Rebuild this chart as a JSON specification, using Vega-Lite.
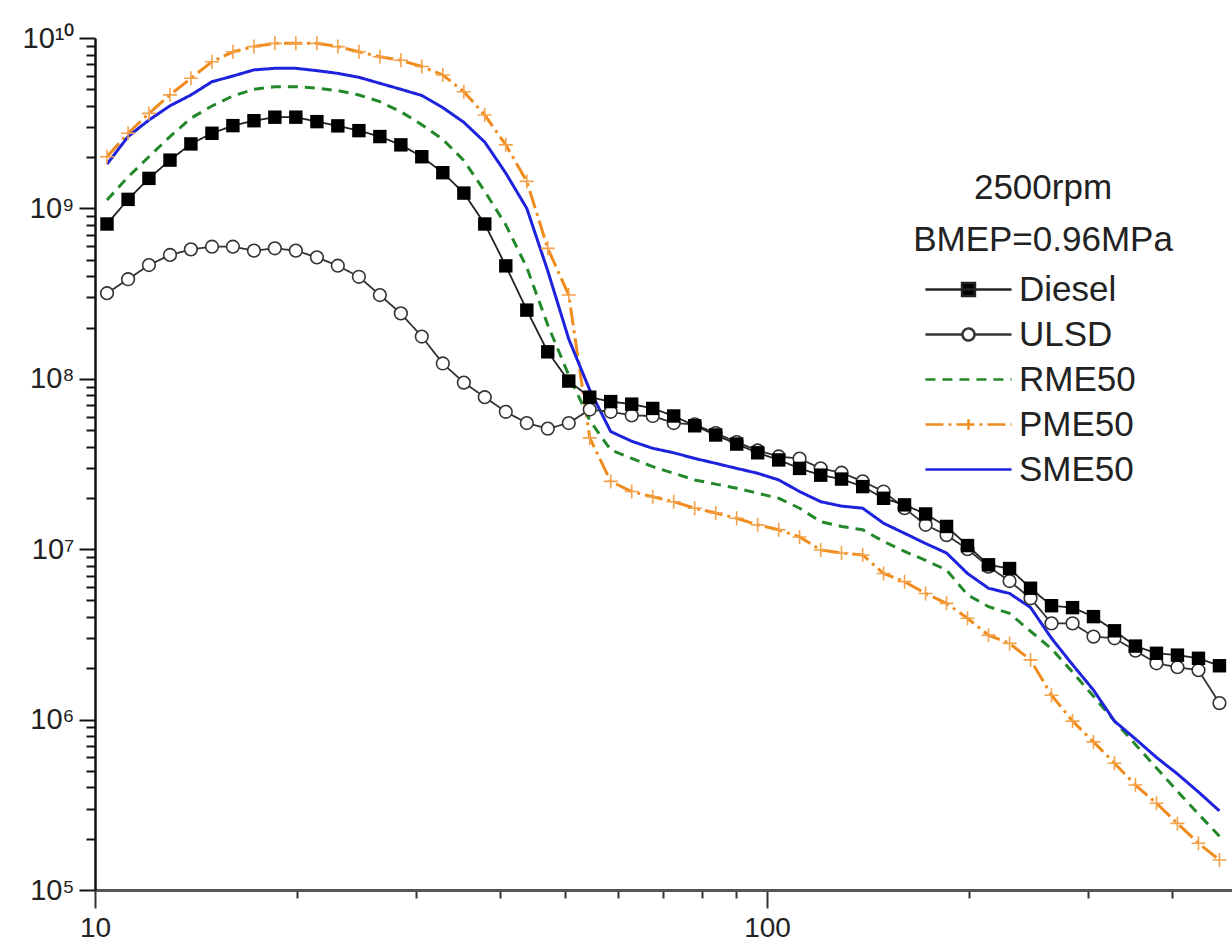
{
  "$schema": "https://vega.github.io/schema/vega-lite/v6.json",
  "autosize": {"type": "none"},
  "padding": {"left": 95, "top": 38, "right": 0, "bottom": 53},
  "width": 1137,
  "height": 852,
  "background": "white",
  "config": {"view": {"stroke": null}},
  "data": {"values": [
    {"fuel":"PME50","x":10.42,"y":2.01e9},{"fuel":"PME50","x":11.2,"y":2.76e9},{"fuel":"PME50","x":12.03,"y":3.61e9},{"fuel":"PME50","x":12.93,"y":4.64e9},{"fuel":"PME50","x":13.89,"y":5.8e9},{"fuel":"PME50","x":14.93,"y":7.26e9},{"fuel":"PME50","x":16.04,"y":8.3e9},{"fuel":"PME50","x":17.24,"y":8.9e9},{"fuel":"PME50","x":18.52,"y":9.3e9},{"fuel":"PME50","x":19.9,"y":9.3e9},{"fuel":"PME50","x":21.39,"y":9.3e9},{"fuel":"PME50","x":22.98,"y":8.9e9},{"fuel":"PME50","x":24.7,"y":8.3e9},{"fuel":"PME50","x":26.54,"y":7.76e9},{"fuel":"PME50","x":28.52,"y":7.4e9},{"fuel":"PME50","x":30.64,"y":6.8e9},{"fuel":"PME50","x":32.93,"y":6.07e9},{"fuel":"PME50","x":35.39,"y":4.84e9},{"fuel":"PME50","x":38.02,"y":3.53e9},{"fuel":"PME50","x":40.86,"y":2.36e9},{"fuel":"PME50","x":43.91,"y":1.44e9},{"fuel":"PME50","x":47.18,"y":5.83e8},{"fuel":"PME50","x":50.7,"y":3.1e8},{"fuel":"PME50","x":54.48,"y":4.5e7},{"fuel":"PME50","x":58.54,"y":2.5e7},{"fuel":"PME50","x":62.91,"y":2.18e7},{"fuel":"PME50","x":67.6,"y":2.03e7},{"fuel":"PME50","x":72.64,"y":1.9e7},{"fuel":"PME50","x":78.06,"y":1.74e7},{"fuel":"PME50","x":83.88,"y":1.63e7},{"fuel":"PME50","x":90.13,"y":1.52e7},{"fuel":"PME50","x":96.85,"y":1.39e7},{"fuel":"PME50","x":104.1,"y":1.3e7},{"fuel":"PME50","x":111.8,"y":1.18e7},{"fuel":"PME50","x":120.2,"y":9.9e6},{"fuel":"PME50","x":129.1,"y":9.5e6},{"fuel":"PME50","x":138.8,"y":9.25e6},{"fuel":"PME50","x":149.1,"y":7.2e6},{"fuel":"PME50","x":160.2,"y":6.45e6},{"fuel":"PME50","x":172.2,"y":5.5e6},{"fuel":"PME50","x":185,"y":4.81e6},{"fuel":"PME50","x":198.8,"y":3.93e6},{"fuel":"PME50","x":213.6,"y":3.13e6},{"fuel":"PME50","x":229.6,"y":2.8e6},{"fuel":"PME50","x":246.7,"y":2.24e6},{"fuel":"PME50","x":265.1,"y":1.39e6},{"fuel":"PME50","x":284.9,"y":9.8e5},{"fuel":"PME50","x":306.1,"y":7.4e5},{"fuel":"PME50","x":328.9,"y":5.54e5},{"fuel":"PME50","x":353.4,"y":4.13e5},{"fuel":"PME50","x":379.8,"y":3.23e5},{"fuel":"PME50","x":408.1,"y":2.46e5},{"fuel":"PME50","x":438.6,"y":1.88e5},{"fuel":"PME50","x":471.3,"y":1.5e5},
    {"fuel":"RME50","x":10.42,"y":1.12e9},{"fuel":"RME50","x":11.2,"y":1.53e9},{"fuel":"RME50","x":12.03,"y":2.01e9},{"fuel":"RME50","x":12.93,"y":2.64e9},{"fuel":"RME50","x":13.89,"y":3.38e9},{"fuel":"RME50","x":14.93,"y":3.99e9},{"fuel":"RME50","x":16.04,"y":4.57e9},{"fuel":"RME50","x":17.24,"y":5.0e9},{"fuel":"RME50","x":18.52,"y":5.18e9},{"fuel":"RME50","x":19.9,"y":5.18e9},{"fuel":"RME50","x":21.39,"y":5.07e9},{"fuel":"RME50","x":22.98,"y":4.91e9},{"fuel":"RME50","x":24.7,"y":4.63e9},{"fuel":"RME50","x":26.54,"y":4.23e9},{"fuel":"RME50","x":28.52,"y":3.69e9},{"fuel":"RME50","x":30.64,"y":3.1e9},{"fuel":"RME50","x":32.93,"y":2.54e9},{"fuel":"RME50","x":35.39,"y":1.91e9},{"fuel":"RME50","x":38.02,"y":1.26e9},{"fuel":"RME50","x":40.86,"y":8.0e8},{"fuel":"RME50","x":43.91,"y":4.5e8},{"fuel":"RME50","x":47.18,"y":2.07e8},{"fuel":"RME50","x":50.7,"y":1.05e8},{"fuel":"RME50","x":54.48,"y":5.7e7},{"fuel":"RME50","x":58.54,"y":3.82e7},{"fuel":"RME50","x":62.91,"y":3.41e7},{"fuel":"RME50","x":67.6,"y":3.05e7},{"fuel":"RME50","x":72.64,"y":2.79e7},{"fuel":"RME50","x":78.06,"y":2.55e7},{"fuel":"RME50","x":83.88,"y":2.41e7},{"fuel":"RME50","x":90.13,"y":2.28e7},{"fuel":"RME50","x":96.85,"y":2.13e7},{"fuel":"RME50","x":104.1,"y":1.99e7},{"fuel":"RME50","x":111.8,"y":1.74e7},{"fuel":"RME50","x":120.2,"y":1.45e7},{"fuel":"RME50","x":129.1,"y":1.36e7},{"fuel":"RME50","x":138.8,"y":1.3e7},{"fuel":"RME50","x":149.1,"y":1.11e7},{"fuel":"RME50","x":160.2,"y":9.7e6},{"fuel":"RME50","x":172.2,"y":8.6e6},{"fuel":"RME50","x":185,"y":7.55e6},{"fuel":"RME50","x":198.8,"y":5.4e6},{"fuel":"RME50","x":213.6,"y":4.6e6},{"fuel":"RME50","x":229.6,"y":4.2e6},{"fuel":"RME50","x":246.7,"y":3.3e6},{"fuel":"RME50","x":265.1,"y":2.6e6},{"fuel":"RME50","x":284.9,"y":1.9e6},{"fuel":"RME50","x":306.1,"y":1.37e6},{"fuel":"RME50","x":328.9,"y":9.8e5},{"fuel":"RME50","x":353.4,"y":7.15e5},{"fuel":"RME50","x":379.8,"y":5.2e5},{"fuel":"RME50","x":408.1,"y":3.8e5},{"fuel":"RME50","x":438.6,"y":2.79e5},{"fuel":"RME50","x":471.3,"y":2.07e5},
    {"fuel":"SME50","x":10.42,"y":1.82e9},{"fuel":"SME50","x":11.2,"y":2.64e9},{"fuel":"SME50","x":12.03,"y":3.3e9},{"fuel":"SME50","x":12.93,"y":4.0e9},{"fuel":"SME50","x":13.89,"y":4.63e9},{"fuel":"SME50","x":14.93,"y":5.54e9},{"fuel":"SME50","x":16.04,"y":5.98e9},{"fuel":"SME50","x":17.24,"y":6.5e9},{"fuel":"SME50","x":18.52,"y":6.64e9},{"fuel":"SME50","x":19.9,"y":6.64e9},{"fuel":"SME50","x":21.39,"y":6.43e9},{"fuel":"SME50","x":22.98,"y":6.2e9},{"fuel":"SME50","x":24.7,"y":5.88e9},{"fuel":"SME50","x":26.54,"y":5.42e9},{"fuel":"SME50","x":28.52,"y":5.0e9},{"fuel":"SME50","x":30.64,"y":4.6e9},{"fuel":"SME50","x":32.93,"y":3.9e9},{"fuel":"SME50","x":35.39,"y":3.2e9},{"fuel":"SME50","x":38.02,"y":2.45e9},{"fuel":"SME50","x":40.86,"y":1.61e9},{"fuel":"SME50","x":43.91,"y":1.0e9},{"fuel":"SME50","x":47.18,"y":4.3e8},{"fuel":"SME50","x":50.7,"y":1.71e8},{"fuel":"SME50","x":54.48,"y":8.6e7},{"fuel":"SME50","x":58.54,"y":4.9e7},{"fuel":"SME50","x":62.91,"y":4.3e7},{"fuel":"SME50","x":67.6,"y":3.91e7},{"fuel":"SME50","x":72.64,"y":3.68e7},{"fuel":"SME50","x":78.06,"y":3.41e7},{"fuel":"SME50","x":83.88,"y":3.19e7},{"fuel":"SME50","x":90.13,"y":2.98e7},{"fuel":"SME50","x":96.85,"y":2.79e7},{"fuel":"SME50","x":104.1,"y":2.55e7},{"fuel":"SME50","x":111.8,"y":2.18e7},{"fuel":"SME50","x":120.2,"y":1.9e7},{"fuel":"SME50","x":129.1,"y":1.79e7},{"fuel":"SME50","x":138.8,"y":1.74e7},{"fuel":"SME50","x":149.1,"y":1.42e7},{"fuel":"SME50","x":160.2,"y":1.24e7},{"fuel":"SME50","x":172.2,"y":1.08e7},{"fuel":"SME50","x":185,"y":9.5e6},{"fuel":"SME50","x":198.8,"y":7.2e6},{"fuel":"SME50","x":213.6,"y":5.9e6},{"fuel":"SME50","x":229.6,"y":5.5e6},{"fuel":"SME50","x":246.7,"y":4.55e6},{"fuel":"SME50","x":265.1,"y":3.0e6},{"fuel":"SME50","x":284.9,"y":2.1e6},{"fuel":"SME50","x":306.1,"y":1.49e6},{"fuel":"SME50","x":328.9,"y":9.8e5},{"fuel":"SME50","x":353.4,"y":7.7e5},{"fuel":"SME50","x":379.8,"y":6.0e5},{"fuel":"SME50","x":408.1,"y":4.8e5},{"fuel":"SME50","x":438.6,"y":3.76e5},{"fuel":"SME50","x":471.3,"y":2.91e5},
    {"fuel":"ULSD","x":10.42,"y":3.18e8},{"fuel":"ULSD","x":11.2,"y":3.84e8},{"fuel":"ULSD","x":12.03,"y":4.65e8},{"fuel":"ULSD","x":12.93,"y":5.33e8},{"fuel":"ULSD","x":13.89,"y":5.75e8},{"fuel":"ULSD","x":14.93,"y":5.96e8},{"fuel":"ULSD","x":16.04,"y":5.96e8},{"fuel":"ULSD","x":17.24,"y":5.65e8},{"fuel":"ULSD","x":18.52,"y":5.83e8},{"fuel":"ULSD","x":19.9,"y":5.65e8},{"fuel":"ULSD","x":21.39,"y":5.16e8},{"fuel":"ULSD","x":22.98,"y":4.61e8},{"fuel":"ULSD","x":24.7,"y":3.97e8},{"fuel":"ULSD","x":26.54,"y":3.1e8},{"fuel":"ULSD","x":28.52,"y":2.42e8},{"fuel":"ULSD","x":30.64,"y":1.77e8},{"fuel":"ULSD","x":32.93,"y":1.23e8},{"fuel":"ULSD","x":35.39,"y":9.5e7},{"fuel":"ULSD","x":38.02,"y":7.8e7},{"fuel":"ULSD","x":40.86,"y":6.4e7},{"fuel":"ULSD","x":43.91,"y":5.5e7},{"fuel":"ULSD","x":47.18,"y":5.1e7},{"fuel":"ULSD","x":50.7,"y":5.5e7},{"fuel":"ULSD","x":54.48,"y":6.6e7},{"fuel":"ULSD","x":58.54,"y":6.4e7},{"fuel":"ULSD","x":62.91,"y":6.1e7},{"fuel":"ULSD","x":67.6,"y":6.05e7},{"fuel":"ULSD","x":72.64,"y":5.5e7},{"fuel":"ULSD","x":78.06,"y":5.4e7},{"fuel":"ULSD","x":83.88,"y":4.8e7},{"fuel":"ULSD","x":90.13,"y":4.25e7},{"fuel":"ULSD","x":96.85,"y":3.8e7},{"fuel":"ULSD","x":104.1,"y":3.5e7},{"fuel":"ULSD","x":111.8,"y":3.4e7},{"fuel":"ULSD","x":120.2,"y":2.98e7},{"fuel":"ULSD","x":129.1,"y":2.81e7},{"fuel":"ULSD","x":138.8,"y":2.5e7},{"fuel":"ULSD","x":149.1,"y":2.18e7},{"fuel":"ULSD","x":160.2,"y":1.74e7},{"fuel":"ULSD","x":172.2,"y":1.39e7},{"fuel":"ULSD","x":185,"y":1.21e7},{"fuel":"ULSD","x":198.8,"y":1.0e7},{"fuel":"ULSD","x":213.6,"y":7.9e6},{"fuel":"ULSD","x":229.6,"y":6.5e6},{"fuel":"ULSD","x":246.7,"y":5.15e6},{"fuel":"ULSD","x":265.1,"y":3.67e6},{"fuel":"ULSD","x":284.9,"y":3.67e6},{"fuel":"ULSD","x":306.1,"y":3.07e6},{"fuel":"ULSD","x":328.9,"y":3.0e6},{"fuel":"ULSD","x":353.4,"y":2.54e6},{"fuel":"ULSD","x":379.8,"y":2.14e6},{"fuel":"ULSD","x":408.1,"y":2.03e6},{"fuel":"ULSD","x":438.6,"y":1.95e6},{"fuel":"ULSD","x":471.3,"y":1.25e6},
    {"fuel":"Diesel","x":10.42,"y":8.1e8},{"fuel":"Diesel","x":11.2,"y":1.13e9},{"fuel":"Diesel","x":12.03,"y":1.5e9},{"fuel":"Diesel","x":12.93,"y":1.92e9},{"fuel":"Diesel","x":13.89,"y":2.39e9},{"fuel":"Diesel","x":14.93,"y":2.76e9},{"fuel":"Diesel","x":16.04,"y":3.06e9},{"fuel":"Diesel","x":17.24,"y":3.27e9},{"fuel":"Diesel","x":18.52,"y":3.43e9},{"fuel":"Diesel","x":19.9,"y":3.43e9},{"fuel":"Diesel","x":21.39,"y":3.23e9},{"fuel":"Diesel","x":22.98,"y":3.05e9},{"fuel":"Diesel","x":24.7,"y":2.86e9},{"fuel":"Diesel","x":26.54,"y":2.64e9},{"fuel":"Diesel","x":28.52,"y":2.36e9},{"fuel":"Diesel","x":30.64,"y":2.01e9},{"fuel":"Diesel","x":32.93,"y":1.62e9},{"fuel":"Diesel","x":35.39,"y":1.23e9},{"fuel":"Diesel","x":38.02,"y":8.1e8},{"fuel":"Diesel","x":40.86,"y":4.6e8},{"fuel":"Diesel","x":43.91,"y":2.53e8},{"fuel":"Diesel","x":47.18,"y":1.44e8},{"fuel":"Diesel","x":50.7,"y":9.7e7},{"fuel":"Diesel","x":54.48,"y":7.8e7},{"fuel":"Diesel","x":58.54,"y":7.35e7},{"fuel":"Diesel","x":62.91,"y":7.1e7},{"fuel":"Diesel","x":67.6,"y":6.7e7},{"fuel":"Diesel","x":72.64,"y":6.05e7},{"fuel":"Diesel","x":78.06,"y":5.3e7},{"fuel":"Diesel","x":83.88,"y":4.68e7},{"fuel":"Diesel","x":90.13,"y":4.14e7},{"fuel":"Diesel","x":96.85,"y":3.68e7},{"fuel":"Diesel","x":104.1,"y":3.34e7},{"fuel":"Diesel","x":111.8,"y":2.98e7},{"fuel":"Diesel","x":120.2,"y":2.72e7},{"fuel":"Diesel","x":129.1,"y":2.58e7},{"fuel":"Diesel","x":138.8,"y":2.33e7},{"fuel":"Diesel","x":149.1,"y":1.99e7},{"fuel":"Diesel","x":160.2,"y":1.82e7},{"fuel":"Diesel","x":172.2,"y":1.61e7},{"fuel":"Diesel","x":185,"y":1.36e7},{"fuel":"Diesel","x":198.8,"y":1.05e7},{"fuel":"Diesel","x":213.6,"y":8.1e6},{"fuel":"Diesel","x":229.6,"y":7.7e6},{"fuel":"Diesel","x":246.7,"y":5.9e6},{"fuel":"Diesel","x":265.1,"y":4.66e6},{"fuel":"Diesel","x":284.9,"y":4.54e6},{"fuel":"Diesel","x":306.1,"y":4.02e6},{"fuel":"Diesel","x":328.9,"y":3.32e6},{"fuel":"Diesel","x":353.4,"y":2.7e6},{"fuel":"Diesel","x":379.8,"y":2.45e6},{"fuel":"Diesel","x":408.1,"y":2.39e6},{"fuel":"Diesel","x":438.6,"y":2.29e6},{"fuel":"Diesel","x":471.3,"y":2.07e6}
  ]},
  "encoding": {
    "x": {"field": "x", "type": "quantitative",
      "scale": {"type": "log", "domain": [10, 492], "nice": false},
      "axis": {
        "values": [10,20,30,40,50,60,70,80,90,100,200,300,400],
        "labelExpr": "datum.value == 10 ? '10' : datum.value == 100 ? '100' : ''",
        "tickSize": {"condition": {"test": "datum.value == 10 || datum.value == 100", "value": 18}, "value": 8},
        "tickWidth": 2, "tickColor": "#333",
        "domainColor": "#555", "domainWidth": 3,
        "labelFont": "Liberation Sans", "labelFontSize": 28, "labelColor": "#222",
        "labelPadding": 6, "labelFlush": false, "labelOverlap": false,
        "title": null, "grid": false
      }
    },
    "y": {"field": "y", "type": "quantitative",
      "scale": {"type": "log", "domain": [100000, 10000000000], "nice": false},
      "axis": {
        "values": [100000,200000,300000,400000,500000,600000,700000,800000,900000,1000000,2000000,3000000,4000000,5000000,6000000,7000000,8000000,9000000,10000000,20000000,30000000,40000000,50000000,60000000,70000000,80000000,90000000,100000000,200000000,300000000,400000000,500000000,600000000,700000000,800000000,900000000,1000000000,2000000000,3000000000,4000000000,5000000000,6000000000,7000000000,8000000000,9000000000,10000000000],
        "labelExpr": "datum.value == 100000 ? '10⁵' : datum.value == 1000000 ? '10⁶' : datum.value == 10000000 ? '10⁷' : datum.value == 100000000 ? '10⁸' : datum.value == 1000000000 ? '10⁹' : datum.value == 10000000000 ? '10¹⁰' : ''",
        "tickSize": {"condition": {"test": "datum.value == 100000 || datum.value == 1000000 || datum.value == 10000000 || datum.value == 100000000 || datum.value == 1000000000 || datum.value == 10000000000", "value": 16}, "value": 9},
        "tickWidth": 2, "tickColor": "#111",
        "domainColor": "#111", "domainWidth": 2.5,
        "labelFont": "Liberation Sans", "labelFontSize": 29, "labelColor": "#222",
        "labelPadding": 5, "labelFlush": false, "labelOverlap": false,
        "title": null, "grid": false
      }
    }
  },
  "layer": [
    {
      "mark": {"type": "line", "clip": true},
      "encoding": {
        "color": {"field": "fuel", "type": "nominal",
          "scale": {"domain": ["Diesel","ULSD","RME50","PME50","SME50"], "range": ["#222222","#333333","#23882a","#f08c1e","#1f22dd"]},
          "legend": {
            "orient": "none", "legendX": 818, "legendY": 133,
            "title": ["2500rpm", "BMEP=0.96MPa"],
            "titleFont": "Liberation Sans", "titleFontSize": 35, "titleFontWeight": "normal", "titleColor": "#222",
            "titleAlign": "center", "titleAnchor": "middle", "titleLineHeight": 52, "titlePadding": 14, "titleLimit": 600,
            "labelFont": "Liberation Sans", "labelFontSize": 35, "labelColor": "#222", "labelOffset": 33, "labelLimit": 400,
            "symbolSize": 900, "rowPadding": 9,
            "encode": {"symbols": {"update": {
              "shape": {"signal": "datum.value === 'Diesel' ? 'M-2.87,0H2.87M-0.43,-0.43H0.43V0.43H-0.43Z' : datum.value === 'ULSD' ? 'M-2.87,0H-0.4M0.4,0H2.87M0.4,0A0.4,0.4 0 1,1 -0.4,0A0.4,0.4 0 1,1 0.4,0Z' : datum.value === 'PME50' ? 'M-2.87,0H2.87M0,-0.35V0.35' : 'M-2.87,0H2.87'"},
              "fill": {"signal": "datum.value === 'Diesel' ? '#000000' : datum.value === 'ULSD' ? '#ffffff' : 'transparent'"},
              "stroke": {"signal": "datum.value === 'Diesel' ? '#444444' : datum.value === 'ULSD' ? '#222222' : datum.value === 'RME50' ? '#23882a' : datum.value === 'PME50' ? '#f08c1e' : '#1f22dd'"},
              "strokeDash": {"signal": "datum.value === 'RME50' ? [10,7] : [1,0]"},
              "strokeWidth": {"value": 2.5},
              "opacity": {"value": 1}
            }}}
          }
        },
        "strokeDash": {"field": "fuel", "type": "nominal",
          "scale": {"domain": ["Diesel","ULSD","RME50","PME50","SME50"], "range": [[1,0],[1,0],[10,7],[18,5,3,5],[1,0]]},
          "legend": null
        },
        "strokeWidth": {"condition": {"test": "datum.fuel === 'Diesel' || datum.fuel === 'ULSD'", "value": 1.8}, "value": 3}
      }
    },
    {
      "transform": [{"filter": {"field": "fuel", "equal": "ULSD"}}],
      "mark": {"type": "point", "shape": "circle", "filled": false, "fill": "#ffffff", "fillOpacity": 1, "stroke": "#333333", "strokeWidth": 1.6, "size": 160, "opacity": 1},
      "encoding": {}
    },
    {
      "transform": [{"filter": {"field": "fuel", "equal": "Diesel"}}],
      "mark": {"type": "point", "shape": "square", "filled": true, "color": "#000000", "size": 180, "opacity": 1},
      "encoding": {}
    },
    {
      "transform": [{"filter": {"field": "fuel", "equal": "PME50"}}],
      "mark": {"type": "point", "shape": "M-1,0H1M0,-1V1", "filled": false, "stroke": "#f3a24a", "strokeWidth": 1.6, "size": 196, "opacity": 1},
      "encoding": {}
    }
  ]
}
